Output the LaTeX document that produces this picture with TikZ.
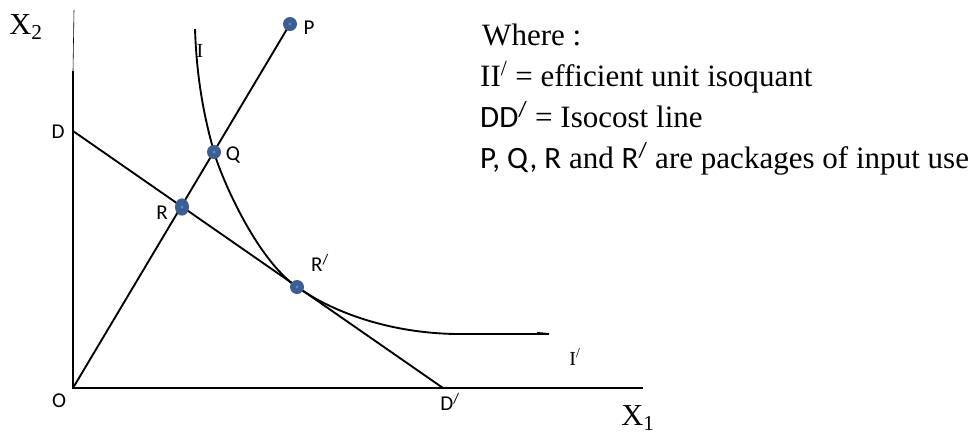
\documentclass[tikz,border=0pt]{standalone}
\usepackage{fontspec}
\setmainfont{Liberation Serif}
\newfontfamily\calibri{Carlito}
\usepackage{tikz}
\usetikzlibrary{positioning,arrows.meta,shapes.geometric}
\definecolor{dotblue}{HTML}{3B5F95}
\definecolor{dotcore}{HTML}{5A86C0}

\begin{document}
\begin{tikzpicture}[x=0.03cm, y=-0.03cm,
  axis/.style={line width=2pt},
  line/.style={line width=1.6pt},
  dot/.style={circle, fill=dotblue, inner sep=0pt, minimum size=0.42cm,
    path picture={\fill[dotcore] (path picture bounding box.center) circle (1.3pt);}},
  ptlabel/.style={font=\calibri\fontsize{18}{20}\selectfont, inner sep=0pt},
  axlabel/.style={font=\fontsize{26}{30}\selectfont, inner sep=0pt},
  curvelabel/.style={font=\fontsize{17}{20}\selectfont, inner sep=0pt},
  legtext/.style={font=\fontsize{26.5}{30}\selectfont, inner sep=0pt, anchor=base west}]
  \useasboundingbox (0,0) rectangle (973,434);
  \coordinate (O) at (73,388);
  \coordinate (D) at (73,131);
  \coordinate (Dp) at (443,388);
  \coordinate (ytop) at (73,71);
  \coordinate (ythin) at (74,10);
  \coordinate (xend) at (643,388);
  \coordinate (Itop) at (195,29);
  \coordinate (Iend) at (570,334);
  \coordinate (pP) at (290,24);
  \coordinate (pQ) at (214,152);
  \coordinate (pR) at (182,207);
  \coordinate (pRp) at (297,287);

  \draw[line width=0.5pt] (ytop) -- (ythin);
  \draw[axis] (ytop) -- (O) -- (xend);
  \draw[line] (D) -- (Dp);
  \draw[line] (O) -- (pP);
  \draw[line, -{Stealth[left, length=28pt, width=5pt]}] (Itop) .. controls (197,90) and (208,130) .. (pQ)
    .. controls (220,174) and (255,258) .. (pRp) .. controls (340,317) and (400,334) .. (460,334) -- (Iend);

  \node[dot] (P) at (pP) {};
  \node[dot] (Q) at (pQ) {};
  \node[dot, ellipse, minimum width=0.42cm, minimum height=0.52cm] (R) at (pR) {};
  \node[dot] (Rp) at (pRp) {};

  \node[axlabel] (xtwo) at (26,27) {X\textsubscript{2}};
  \node[axlabel] (xone) at (638,418) {X\textsubscript{1}};
  \node[curvelabel] (Ilab) at (200,51) {I};
  \node[curvelabel] (Iplab) at (575,357) {I\textsuperscript{/}};
  \node[ptlabel] (Olab) at (59,401) {O};
  \node[ptlabel] (Dlab) at (58,132) {D};
  \node[ptlabel] (Dplab) at (450,402) {D\textsuperscript{/}};
  \node[ptlabel] (Rlab) at (162,213) {R};
  \node[ptlabel] (Qlab) at (233,155) {Q};
  \node[ptlabel] (Plab) at (309,28) {P};
  \node[ptlabel] (Rplab) at (320,263) {R\textsuperscript{/}};

  \node[legtext] (where) at (482,45) {Where :};
  \node[legtext] (legII) at (480,86) {II\textsuperscript{/} = efficient unit isoquant};
  \node[legtext] (legDD) at (480,127) {{\calibri DD\textsuperscript{/}} = Isocost line};
  \node[legtext] (legPQ) at (480,168) {{\calibri P, Q, R} and {\calibri R\textsuperscript{/}} are packages of input use};
\end{tikzpicture}
\end{document}
